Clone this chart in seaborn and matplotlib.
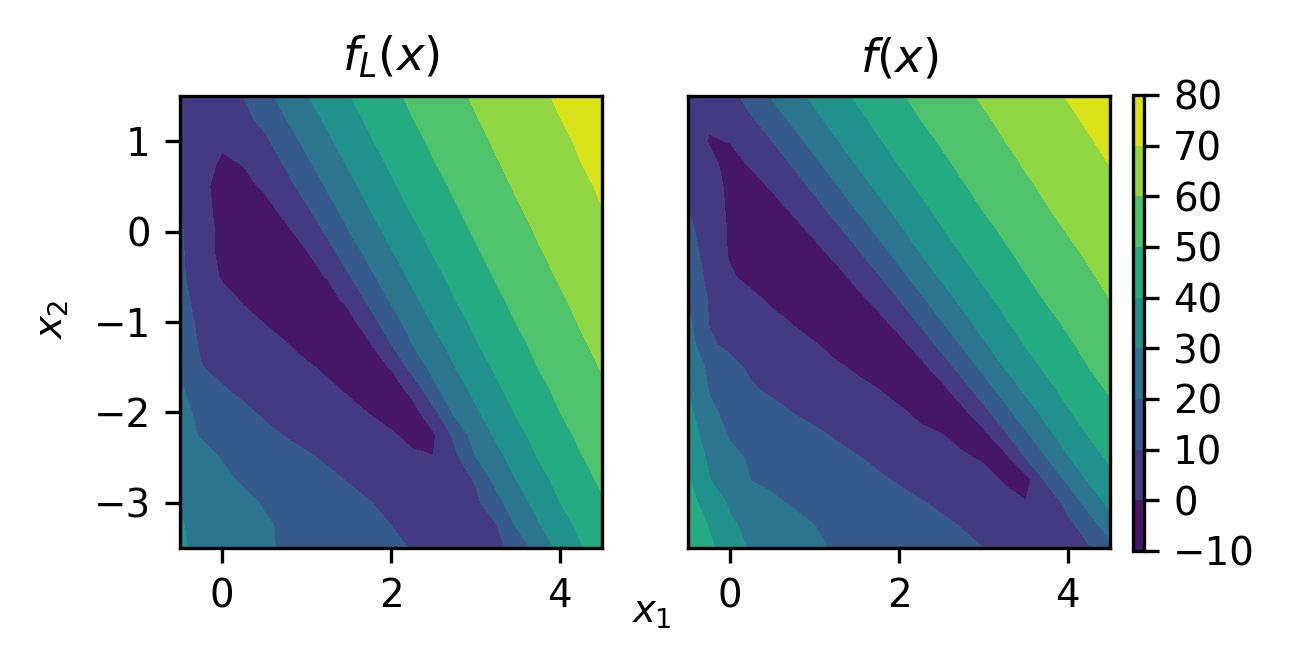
import numpy as np
import seaborn as sns
import matplotlib.pyplot as plt

# grid of the two fields (x1 across, x2 from top to bottom)
x1 = [-0.5, -0.25, 0.0, 0.25, 0.5, 0.75, 1.0, 1.25, 1.5, 1.75, 2.0,
      2.25, 2.5, 2.75, 3.0, 3.25, 3.5, 3.75, 4.0, 4.25, 4.5]
x2 = [1.5, 1.25, 1.0, 0.75, 0.5, 0.25, 0.0, -0.25, -0.5, -0.75, -1.0,
      -1.25, -1.5, -1.75, -2.0, -2.25, -2.5, -2.75, -3.0, -3.25, -3.5]
levels = [-10, 0, 10, 20, 30, 40, 50, 60, 70, 80]

# f_L(x), low fidelity
f_low = [
    [5, 4.5, 6.5, 10.1, 17.1, 23.5, 29.5, 34.7, 39.7, 43.8, 47.9, 51.6, 54.8, 58.1, 61.0, 63.6, 66.1, 68.7, 71.0, 73.0, 75.0],
    [6, 4, 4.5, 7.5, 12.7, 19.8, 26.0, 31.7, 36.9, 41.6, 45.7, 49.8, 53.1, 56.4, 59.6, 62.3, 64.8, 67.4, 69.9, 72.0, 74.0],
    [7.5, 3.5, 1.5, 2.5, 8, 15.4, 22.3, 28.5, 34.0, 39.2, 43.5, 47.6, 51.4, 54.7, 57.9, 61.0, 63.5, 66.1, 68.6, 70.9, 73.0],
    [8.5, 3.8, -1.5, 0.3, 5.4, 10.7, 18.3, 24.9, 30.9, 36.2, 41.2, 45.3, 49.5, 52.9, 56.2, 59.5, 62.2, 64.8, 67.3, 69.9, 71.9],
    [9.7, 2.1, -3, -2.5, 1.25, 6.9, 13.6, 21.1, 27.5, 33.2, 38.6, 43.1, 47.3, 51.1, 54.5, 57.8, 60.9, 63.4, 66.0, 68.6, 70.9],
    [10.3, 3.8, -3.5, -4, -3, 2.5, 8.8, 16.6, 23.7, 30.1, 35.5, 40.8, 45.0, 49.2, 52.7, 56.0, 59.4, 62.1, 64.7, 67.3, 69.9],
    [11, 4.5, -2.5, -4.5, -4.5, -2, 4.0, 11.5, 19.8, 26.4, 32.4, 37.9, 42.6, 46.9, 50.9, 54.3, 57.6, 60.8, 63.4, 66.0, 68.6],
    [11.3, 4.7, -2.5, -4.5, -5, -4, -1, 6.3, 14.6, 22.5, 29.1, 34.8, 40.3, 44.6, 48.9, 52.5, 55.9, 59.3, 62.0, 64.6, 67.2],
    [11.5, 5.7, -1, -3.5, -5, -5, -3, 0.5, 9.1, 18.0, 25.2, 31.6, 37.3, 42.2, 46.5, 50.7, 54.1, 57.5, 60.7, 63.3, 65.9],
    [12, 7.6, 3.3, -1, -3.5, -5, -4.5, -3.5, 2.5, 12.4, 21.2, 28.0, 34.0, 39.8, 44.2, 48.5, 52.3, 55.7, 59.1, 61.9, 64.6],
    [13, 8.5, 5.7, 2.8, -0.3, -3.5, -5, -4.5, -3.2, 6.1, 15.9, 24.0, 30.7, 36.6, 41.8, 46.2, 50.4, 53.9, 57.3, 60.6, 63.2],
    [14.5, 9.1, 7.0, 4.8, 2.7, 0.5, -2.5, -4.5, -4, -1.0, 9.7, 19.8, 26.8, 33.2, 39.2, 43.8, 48.2, 52.0, 55.5, 59.0, 61.9],
    [17.5, 10.2, 8.2, 6.4, 4.6, 2.7, 0.9, -1.2, -4, -3, 0.5, 13.5, 22.7, 29.7, 35.8, 41.4, 45.8, 50.2, 53.7, 57.2, 60.5],
    [21, 15.8, 10.6, 8.4, 6.6, 4.8, 3.0, 1.2, -0.8, -3.5, -4.5, 2.5, 17.6, 25.6, 32.3, 38.5, 43.4, 47.8, 51.8, 55.3, 58.8],
    [22.3, 18.2, 14.8, 11.4, 8.9, 7.1, 5.3, 3.5, 1.7, -0.3, -4, -4, 7, 21.3, 28.5, 35.0, 40.9, 45.4, 49.9, 53.4, 57.0],
    [23.5, 19.2, 16.8, 14.4, 11.9, 9.6, 7.9, 6.1, 4.3, 2.5, 1.2, -3, -1.5, 12.2, 24.2, 31.4, 37.8, 42.9, 47.5, 51.6, 55.1],
    [26.1, 22.8, 19.6, 17.4, 15.3, 13.1, 10.9, 9.0, 7.2, 5.5, 3.8, 2.0, 0.2, 7.1, 19.6, 27.3, 34.1, 40.4, 45.0, 49.5, 53.2],
    [27.9, 24.8, 21.6, 19.1, 17.2, 15.3, 13.4, 11.5, 9.6, 7.8, 6.0, 4.5, 3.2, 5.7, 10.6, 22.9, 30.4, 37.0, 42.5, 47.1, 51.3],
    [29.7, 27.1, 24.4, 21.8, 19.4, 17.6, 15.7, 13.9, 12.1, 10.2, 8.3, 6.6, 5.0, 4.2, 7.7, 16.9, 26.0, 33.2, 39.9, 44.6, 49.2],
    [30.5, 28.0, 25.6, 23.2, 20.9, 18.9, 17.1, 15.3, 13.5, 11.8, 10.0, 8.1, 6.9, 5.8, 5.5, 9.5, 21.4, 29.2, 36.1, 42.0, 46.7],
    [31, 28.3, 25.9, 23.4, 21.0, 19.1, 17.5, 15.9, 14.4, 12.8, 11.3, 9.7, 8.3, 7.1, 6.0, 7.8, 13.4, 24.6, 32.2, 39.2, 44.2],
]

# f(x), high fidelity
f_high = [
    [4, 2, 6.5, 14.6, 21.1, 26.8, 32.1, 36.8, 41.2, 45.1, 48.9, 52.2, 55.2, 58.2, 61.0, 63.3, 65.7, 68.1, 70.4, 72.3, 74.2],
    [4.5, 1, 3.7, 9.1, 15.6, 22.1, 28.0, 33.2, 37.9, 42.2, 46.1, 50.0, 53.0, 56.0, 59.1, 61.6, 64.0, 66.4, 68.8, 71.0, 72.9],
    [6.5, -0.5, 0.2, 5.2, 9.9, 16.8, 23.2, 29.3, 34.3, 39.1, 43.2, 47.1, 50.8, 53.8, 56.9, 59.9, 62.3, 64.7, 67.1, 69.5, 71.5],
    [8.0, 2.0, -2.5, 0.8, 5.7, 10.9, 18.0, 24.4, 30.5, 35.4, 40.3, 44.2, 48.2, 51.7, 54.7, 57.8, 60.7, 63.0, 65.4, 67.8, 70.2],
    [9.2, 3.9, -2, -3, 1.0, 6.2, 11.9, 19.2, 25.6, 31.6, 36.6, 41.3, 45.3, 49.3, 52.5, 55.6, 58.7, 61.4, 63.7, 66.1, 68.5],
    [9.9, 4.4, -1.5, -4, -3, 1.3, 6.8, 13.1, 20.4, 26.9, 32.7, 37.8, 42.3, 46.3, 50.3, 53.4, 56.5, 59.6, 62.1, 64.4, 66.8],
    [12.4, 5.1, -1, -4, -4.5, -3, 1.6, 7.4, 14.2, 21.6, 28.3, 33.9, 39.1, 43.4, 47.4, 51.1, 54.2, 57.3, 60.3, 62.7, 65.1],
    [14.8, 5.9, -1, -4, -5, -4.5, -3, 2.0, 8.2, 15.5, 22.9, 29.8, 35.1, 40.3, 44.4, 48.5, 52.0, 55.1, 58.2, 61.0, 63.5],
    [17.2, 7.25, 1.0, -2.5, -4.5, -5, -4, -3, 2.4, 9.0, 16.8, 24.2, 31.0, 36.4, 41.4, 45.5, 49.6, 52.8, 56.0, 59.1, 61.8],
    [19.6, 9.1, 5.5, 1.9, -1.5, -4, -5, -4.5, -2.5, 2.9, 10.0, 18.1, 25.6, 32.2, 37.7, 42.4, 46.6, 50.6, 53.7, 56.9, 60.0],
    [22.2, 9.7, 7.2, 4.7, 2.2, -0.5, -3.5, -5, -4.5, -3, 3.4, 11.2, 19.5, 27.2, 33.5, 39.1, 43.5, 47.7, 51.4, 54.6, 57.8],
    [24.8, 11, 8.5, 6.5, 4.5, 2.5, 0.5, -2.5, -4.5, -4.5, -3, 4.0, 12.5, 20.9, 28.8, 34.8, 40.4, 44.6, 48.8, 52.3, 55.5],
    [27.4, 18.0, 12.0, 8.7, 6.8, 4.9, 3.0, 1.1, -1.0, -4, -4.5, -3, 4.8, 13.8, 22.4, 30.3, 36.2, 41.5, 45.7, 50.0, 53.2],
    [30, 19.6, 14.7, 10.9, 8.6, 6.9, 5.2, 3.5, 1.8, 0.2, -3.5, -4.5, -3, 5.7, 15.2, 23.9, 31.6, 37.6, 42.6, 46.9, 50.9],
    [32.7, 21.7, 17.7, 15.1, 12.4, 9.8, 8.0, 6.3, 4.5, 2.7, 1.5, -2, -4, -2.5, 6.9, 16.7, 25.6, 33.0, 39.1, 43.7, 48.0],
    [35.4, 25.4, 19.1, 17.2, 15.3, 13.2, 11.3, 9.3, 7.5, 5.7, 3.9, 2.0, 0.3, -3, -3, 8.3, 18.3, 27.4, 34.4, 40.4, 44.8],
    [38.2, 28.3, 22.1, 18.9, 17.2, 15.5, 13.8, 12.1, 10.4, 8.6, 6.8, 4.9, 3.1, 1.25, -1.2, -3, 10.2, 20.0, 29.4, 35.9, 41.6],
    [40.9, 30.4, 25, 19.9, 18.4, 16.9, 15.4, 14.0, 12.5, 11.0, 9.4, 7.6, 5.8, 4.1, 3.5, -1.0, -4, 11.7, 21.7, 31.0, 37.4],
    [43.6, 35.7, 28.7, 25.0, 21.3, 19.1, 17.7, 16.2, 14.8, 13.4, 11.9, 10.5, 8.9, 7.1, 5.4, 3.6, 0.5, 2.6, 13.3, 23.6, 32.4],
    [46.3, 39.4, 31.3, 27.8, 25.2, 22.6, 20.0, 18.5, 17.1, 15.6, 14.1, 12.6, 11.2, 9.7, 8.1, 6.5, 4.9, 3.3, 7.2, 14.9, 25.6],
    [49, 42.1, 34.6, 28.7, 26.2, 23.6, 21.1, 19.4, 18.0, 16.7, 15.3, 14.0, 12.7, 11.3, 10.0, 8.4, 6.9, 5.3, 6.8, 9.1, 16.7],
]

sns.set_theme(style="ticks", rc={
    "font.size": 9.3, "axes.titlesize": 11.2, "xtick.labelsize": 9.3, "ytick.labelsize": 9.3,
    "axes.edgecolor": "black", "axes.linewidth": 0.8, "xtick.color": "black", "ytick.color": "black",
    "xtick.major.size": 3.5, "ytick.major.size": 3.5, "xtick.major.width": 0.8, "ytick.major.width": 0.8,
    "text.color": "black", "axes.labelcolor": "black",
})
plt.rcParams["font.family"] = ["DejaVu Sans"]

cmap = sns.color_palette("viridis", as_cmap=True)

fig = plt.figure(figsize=(1292 / 300, 662 / 300), dpi=300)
ax1 = fig.add_axes([180 / 1292, 114 / 662, 422 / 1292, 452 / 662])
ax2 = fig.add_axes([688 / 1292, 114 / 662, 422 / 1292, 452 / 662])
cax = fig.add_axes([1133 / 1292, 111 / 662, 11 / 1292, 456 / 662])

# contourf wants ascending y
yy = np.array(x2)[::-1]
cs = ax1.contourf(x1, yy, np.array(f_low)[::-1], levels=levels, cmap=cmap)
ax2.contourf(x1, yy, np.array(f_high)[::-1], levels=levels, cmap=cmap)

ax1.set_title(r"$f_L(x)$")
ax2.set_title(r"$f(x)$")
for ax in (ax1, ax2):
    ax.set_xlim(-0.5, 4.5)
    ax.set_ylim(-3.5, 1.5)
    ax.set_xticks([0, 2, 4])
ax1.set_yticks([1, 0, -1, -2, -3])
ax2.set_yticks([])

fig.text(651 / 1292, 1 - 612 / 662, r"$x_1$", ha="center", va="center", fontsize=9.3)
fig.text(52 / 1292, 1 - 320 / 662, r"$x_2$", ha="center", va="center", rotation=90, fontsize=9.3)

cb = fig.colorbar(cs, cax=cax, ticks=levels)
cb.outline.set_linewidth(0.8)

fig.savefig("out.png", dpi=300)
